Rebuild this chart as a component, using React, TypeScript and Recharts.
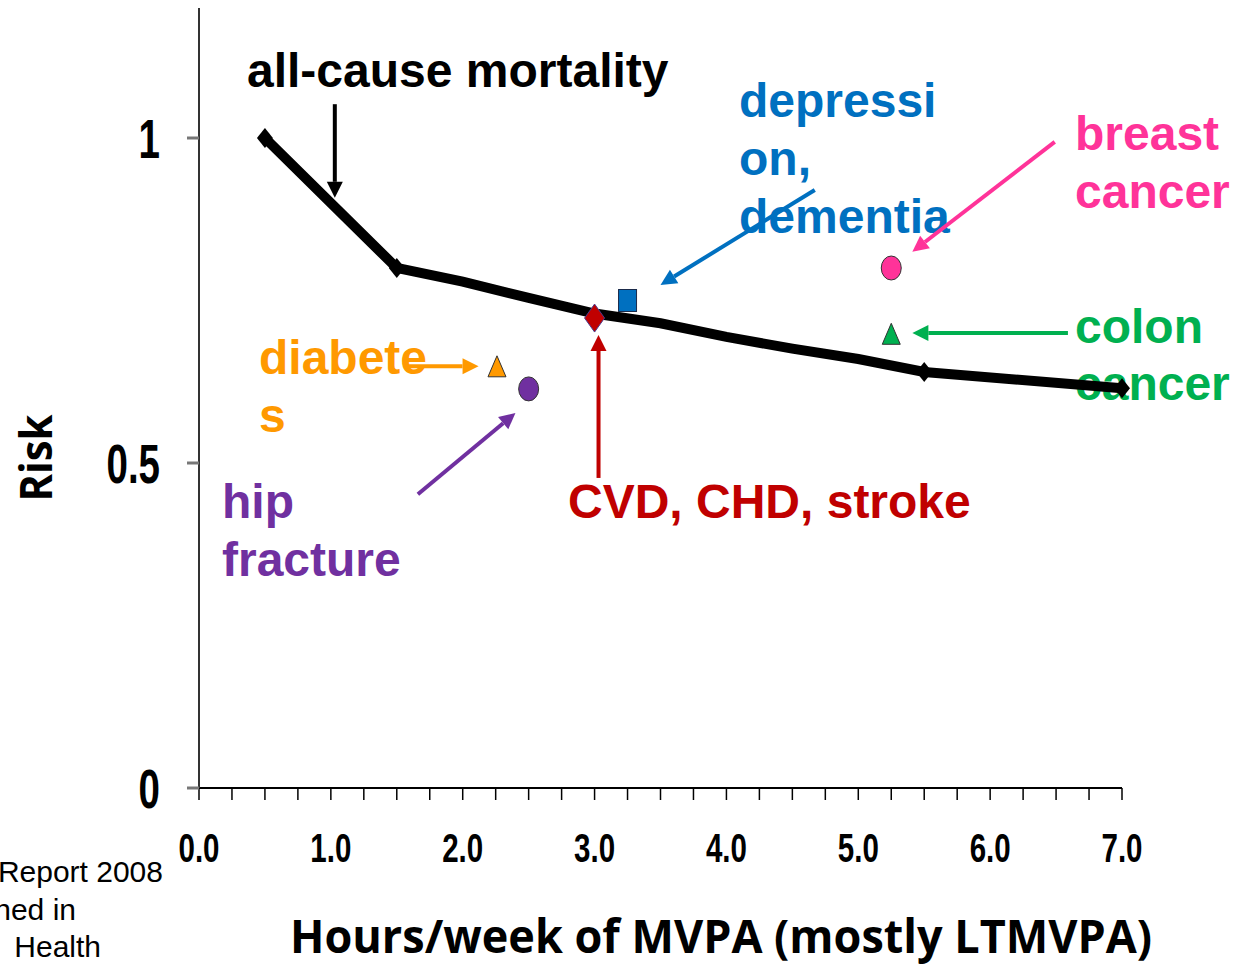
import React from 'react';
import { ComposedChart, Line, Scatter, XAxis, YAxis, ReferenceLine } from 'recharts';

// all-cause mortality curve
const hours = [0.5, 1.5, 2.0, 2.5, 3.0, 3.5, 4.0, 4.5, 5.0, 5.5, 7.0];
const risk = [1.0, 0.8, 0.779, 0.754, 0.73, 0.715, 0.694, 0.676, 0.66, 0.64, 0.615];
const markerHours = [0.5, 1.5, 5.5, 7.0];

// single outcome points
const diabetes = [{ hours: 2.26, risk: 0.648 }];
const hipFracture = [{ hours: 2.5, risk: 0.614 }];
const cvd = [{ hours: 3.0, risk: 0.723 }];
const depression = [{ hours: 3.25, risk: 0.75 }];
const breastCancer = [{ hours: 5.25, risk: 0.8 }];
const colonCancer = [{ hours: 5.25, risk: 0.698 }];

const xTicks = [0, 0.25, 0.5, 0.75, 1, 1.25, 1.5, 1.75, 2, 2.25, 2.5, 2.75, 3, 3.25, 3.5, 3.75, 4, 4.25, 4.5, 4.75, 5, 5.25, 5.5, 5.75, 6, 6.25, 6.5, 6.75, 7];
const yTicks = [0, 0.5, 1];

// annotation arrows, in data units
const arrows = [
  { from: [1.03, 1.052], to: [1.03, 0.908], color: '#000000' },
  { from: [4.67, 0.92], to: [3.5, 0.774], color: '#0070C0' },
  { from: [6.49, 0.994], to: [5.41, 0.825], color: '#FF3399' },
  { from: [6.59, 0.7], to: [5.41, 0.7], color: '#00B050' },
  { from: [1.56, 0.649], to: [2.12, 0.649], color: '#FF9900' },
  { from: [1.66, 0.452], to: [2.4, 0.577], color: '#7030A0' },
  { from: [3.03, 0.477], to: [3.03, 0.697], color: '#C00000' },
];

const lineData = hours.map((h, i) => ({ hours: h, risk: risk[i] }));

const arial = '"Liberation Sans", Arial, sans-serif';

const arrowShape = (color: string) => (props: any) => {
  const { x1, y1, x2, y2 } = props;
  if (x1 == null || x2 == null) return <g />;
  const ang = Math.atan2(y2 - y1, x2 - x1);
  const len = 16;
  const half = 8;
  const bx = x2 - len * Math.cos(ang);
  const by = y2 - len * Math.sin(ang);
  const px = -Math.sin(ang) * half;
  const py = Math.cos(ang) * half;
  return (
    <g>
      <line x1={x1} y1={y1} x2={bx} y2={by} stroke={color} strokeWidth={4} />
      <polygon points={`${x2},${y2} ${bx + px},${by + py} ${bx - px},${by - py}`} fill={color} />
    </g>
  );
};

const LineDot = (props: any) => {
  const { cx, cy, payload, index } = props;
  if (!markerHours.includes(payload.hours)) return <g key={`d-${index}`} />;
  return <path key={`d-${index}`} d={`M${cx},${cy - 10} L${cx + 8},${cy} L${cx},${cy + 10} L${cx - 8},${cy} Z`} fill="#000" />;
};

// condensed bold tick labels
const XTick = (props: any) => {
  const { x, y, payload } = props;
  const v = payload.value;
  if (!Number.isInteger(v)) return <g />;
  return (
    <text transform={`translate(${x},${y}) scale(0.72,1)`} textAnchor="middle" dy="0.71em"
      fontFamily={arial} fontWeight={700} fontSize={41} fill="#000">
      {v.toFixed(1)}
    </text>
  );
};

const YTick = (props: any) => {
  const { x, y, payload } = props;
  return (
    <text transform={`translate(${x},${y}) scale(0.7,1)`} textAnchor="end" dy="0.355em"
      fontFamily={arial} fontWeight={700} fontSize={55} fill="#000">
      {String(payload.value)}
    </text>
  );
};

const Ellipse = (fill: string) => (p: any) => (
  <ellipse cx={p.cx} cy={p.cy} rx={10} ry={12} fill={fill} stroke="#333" strokeWidth={1} />
);
const Tri = (fill: string) => (p: any) => (
  <polygon points={`${p.cx},${p.cy - 11} ${p.cx + 9},${p.cy + 10} ${p.cx - 9},${p.cy + 10}`} fill={fill} stroke="#333" strokeWidth={1} />
);
const Diamond = (fill: string) => (p: any) => (
  <polygon points={`${p.cx},${p.cy - 14} ${p.cx + 10},${p.cy} ${p.cx},${p.cy + 14} ${p.cx - 10},${p.cy}`} fill={fill} stroke="#4b3a8c" strokeWidth={1} />
);
const Square = (fill: string) => (p: any) => (
  <rect x={p.cx - 9} y={p.cy - 11} width={18} height={22} fill={fill} stroke="#1a2a4a" strokeWidth={1} />
);

export default function App() {
  const txt = { fontFamily: arial, fontWeight: 700, fontSize: 48 };
  return (
    <div style={{ position: 'absolute', left: 0, top: 0, width: 1233, height: 966, background: '#fff', overflow: 'hidden' }}>
      <svg width={1233} height={966} style={{ position: 'absolute', left: 0, top: 0 }}>
        <text x={247} y={87} {...txt} fill="#000">all-cause mortality</text>
        <text x={739} y={117} {...txt} fill="#0070C0">depressi</text>
        <text x={739} y={175} {...txt} fill="#0070C0">on,</text>
        <text x={739} y={233} {...txt} fill="#0070C0">dementia</text>
        <text x={1075} y={150} {...txt} fill="#FF3399">breast</text>
        <text x={1075} y={208} {...txt} fill="#FF3399">cancer</text>
        <text x={1075} y={343} {...txt} fill="#00B050">colon</text>
        <text x={1075} y={400} {...txt} fill="#00B050">cancer</text>
        <text x={259} y={374} {...txt} fill="#FF9900">diabete</text>
        <text x={259} y={432} {...txt} fill="#FF9900">s</text>
        <text x={222} y={518} {...txt} fill="#7030A0">hip</text>
        <text x={222} y={576} {...txt} fill="#7030A0">fracture</text>
        <text x={568} y={518} {...txt} fill="#C00000">CVD, CHD, stroke</text>
        <text x={163} y={882} textAnchor="end" fontFamily={arial} fontSize={30} fill="#000">Report 2008</text>
        <text x={76} y={920} textAnchor="end" fontFamily={arial} fontSize={30} fill="#000">hed in</text>
        <text x={101} y={957} textAnchor="end" fontFamily={arial} fontSize={30} fill="#000">Health</text>
        <text x={52} y={458} transform="rotate(-90 52 458)" textAnchor="middle" fontFamily='"Open Sans", sans-serif' fontWeight={700} fontSize={44} textLength={87} lengthAdjust="spacingAndGlyphs" fill="#000">Risk</text>
        <text x={290} y={953} fontFamily='"Open Sans", sans-serif' fontWeight={700} fontSize={46} textLength={862} lengthAdjust="spacingAndGlyphs" fill="#000">Hours/week of MVPA (mostly LTMVPA)</text>
      </svg>
      <div style={{ position: 'absolute', left: 0, top: 0 }}>
        <ComposedChart width={1233} height={966} data={lineData} margin={{ top: 8, right: 111, bottom: 0, left: 0 }}>
          <XAxis
            type="number"
            dataKey="hours"
            domain={[0, 7]}
            ticks={xTicks}
            interval={0}
            tickSize={12}
            tickMargin={33}
            height={178}
            axisLine={{ stroke: '#000', strokeWidth: 2 }}
            tickLine={{ stroke: '#000', strokeWidth: 1.5 }}
            tick={<XTick />}
          />
          <YAxis
            type="number"
            domain={[0, 1.2]}
            ticks={yTicks}
            interval={0}
            width={199}
            tickSize={12}
            tickMargin={27}
            axisLine={{ stroke: '#333', strokeWidth: 2 }}
            tickLine={{ stroke: '#777', strokeWidth: 3 }}
            tick={<YTick />}
          />
          {arrows.map((a, i) => (
            <ReferenceLine
              key={i}
              segment={[{ x: a.from[0], y: a.from[1] }, { x: a.to[0], y: a.to[1] }]}
              ifOverflow="visible"
              shape={arrowShape(a.color)}
            />
          ))}
          <Line
            type="linear"
            dataKey="risk"
            stroke="#000"
            strokeWidth={10}
            dot={LineDot}
            activeDot={false}
            isAnimationActive={false}
          />
          <Scatter data={diabetes} dataKey="risk" shape={Tri('#FF9900')} isAnimationActive={false} />
          <Scatter data={hipFracture} dataKey="risk" shape={Ellipse('#7030A0')} isAnimationActive={false} />
          <Scatter data={cvd} dataKey="risk" shape={Diamond('#C00000')} isAnimationActive={false} />
          <Scatter data={depression} dataKey="risk" shape={Square('#0070C0')} isAnimationActive={false} />
          <Scatter data={breastCancer} dataKey="risk" shape={Ellipse('#FF3399')} isAnimationActive={false} />
          <Scatter data={colonCancer} dataKey="risk" shape={Tri('#00B050')} isAnimationActive={false} />
        </ComposedChart>
      </div>
    </div>
  );
}
